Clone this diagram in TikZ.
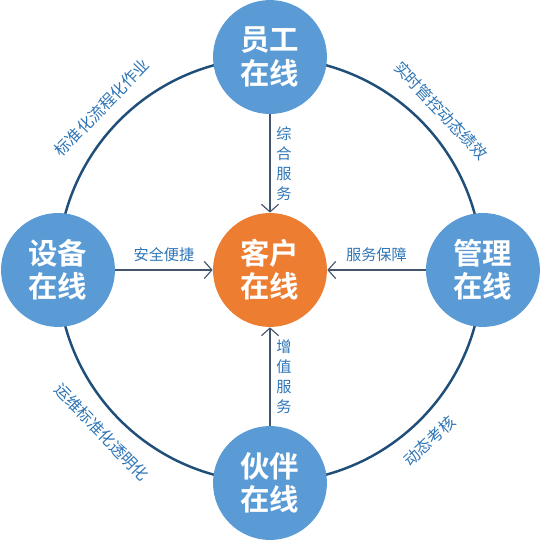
\documentclass[tikz,border=0pt]{standalone}
\usepackage{fontspec}
\newfontfamily\cjk{Noto Sans CJK SC}[BoldFont={* Bold}]
\usetikzlibrary{arrows.meta,positioning}
\definecolor{ringblue}{HTML}{1F4E79}
\definecolor{nodeblue}{HTML}{5B9BD5}
\definecolor{nodeorange}{HTML}{ED7D31}
\definecolor{arrowgray}{HTML}{44546A}
\definecolor{labelblue}{HTML}{2E75B6}
\tikzset{
  ball/.style={circle,minimum size=2.11cm,inner sep=0pt,text=white,align=center,
    font=\cjk\bfseries\fontsize{15.5}{17.5}\selectfont},
  feed/.style={draw=arrowgray,line width=0.6pt,-{Straight Barb[length=4pt,width=9pt]}},
  feedlabel/.style={inner sep=0pt,text=labelblue,align=center,
    font=\cjk\fontsize{8}{10.5}\selectfont},
  ringlabel/.style={inner sep=0pt,text=labelblue,font=\cjk\fontsize{8.4}{10}\selectfont}
}
\begin{document}
\begin{tikzpicture}
\useasboundingbox (0,0) rectangle (10,10.056);
\coordinate (mid) at (5,5.056);
\draw[ringblue,line width=1.3pt] (mid) circle (3.93);
\node[ball,fill=nodeorange] (kehu) at (mid) {客户\\在线};
\node[ball,fill=nodeblue] (yuangong) at (5,9.000) {员工\\在线};
\node[ball,fill=nodeblue] (shebei) at (1.074,5.056) {设备\\在线};
\node[ball,fill=nodeblue] (guanli) at (8.944,5.056) {管理\\在线};
\node[ball,fill=nodeblue] (huoban) at (5,1.111) {伙伴\\在线};
\draw[feed] (yuangong) -- (kehu) node[midway,right=3pt,feedlabel] {综\\合\\服\\务};
\draw[feed] (huoban) -- (kehu) node[midway,right=3pt,feedlabel] {增\\值\\服\\务};
\draw[feed] (shebei) -- (kehu) node[midway,above=4pt,feedlabel] {安全便捷};
\draw[feed] (guanli) -- (kehu) node[midway,above=4pt,feedlabel] {服务保障};
\node[ringlabel,rotate=46] (zuoye) at ([shift={(136:4.33)}]mid) {标准化流程化作业};
\node[ringlabel,rotate=-47] (jixiao) at ([shift={(43:4.33)}]mid) {实时管控动态绩效};
\node[ringlabel,rotate=-46] (yunwei) at ([shift={(224:4.33)}]mid) {运维标准化透明化};
\node[ringlabel,rotate=43] (kaohe) at ([shift={(313:4.33)}]mid) {动态考核};
\end{tikzpicture}
\end{document}
